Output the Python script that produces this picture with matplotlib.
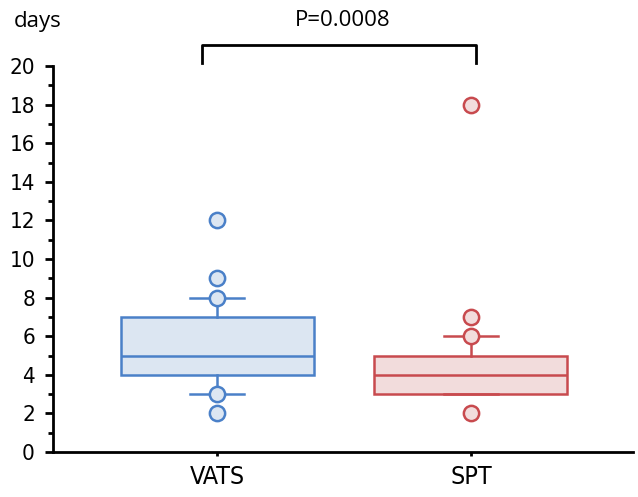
import numpy as np
import matplotlib
matplotlib.use("Agg")
import matplotlib.pyplot as plt
from matplotlib.ticker import MultipleLocator
from matplotlib import font_manager

# Daten
groups = ["VATS", "SPT"]
q1 = [4, 3]
median = [5, 4]
q3 = [7, 5]
whis_lo = [3, 3]
whis_hi = [8, 6]
points_vats = [2, 3, 8, 9, 12]
points_spt = [2, 6, 7, 18]
p_text = "P=0.0008"

edge_cols = ["#4a80c8", "#c84a4e"]
fill_cols = ["#dce6f2", "#f2dcdc"]

# schmale Schrift suchen, sonst Roboto
cands = [f for f in font_manager.fontManager.ttflist
         if "ondensed" in str(f.stretch) or "Narrow" in f.name or "Condensed" in f.name]
if cands:
    cands.sort(key=lambda f: (f.weight != 400 and f.weight != "normal", "Oblique" in f.fname or "Italic" in f.fname))
    narrow = font_manager.FontProperties(fname=cands[0].fname)
else:
    narrow = font_manager.FontProperties(family="Roboto")

fig = plt.figure(figsize=(6.38, 4.97), dpi=100)
ax = fig.add_axes([53/638, 1-452/497, 580/638, 386/497])

pos = [1, 2]
for i in range(2):
    st = dict(med=median[i], q1=q1[i], q3=q3[i],
              whislo=whis_lo[i], whishi=whis_hi[i], fliers=[])
    ax.bxp([st], positions=[pos[i]], widths=0.76, patch_artist=True,
           showfliers=False,
           boxprops=dict(facecolor=fill_cols[i], edgecolor=edge_cols[i], linewidth=1.8),
           medianprops=dict(color=edge_cols[i], linewidth=1.8),
           whiskerprops=dict(color=edge_cols[i], linewidth=1.8),
           capprops=dict(color=edge_cols[i], linewidth=1.8),
           capwidths=0.21)

for i, pts in enumerate([points_vats, points_spt]):
    ax.plot([pos[i]] * len(pts), pts, "o", ms=11, mfc=fill_cols[i],
            mec=edge_cols[i], mew=1.8, zorder=5, clip_on=False)

ax.set_xlim(0.354, 2.638)
ax.set_ylim(0, 20)
ax.yaxis.set_major_locator(MultipleLocator(2))
ax.yaxis.set_minor_locator(MultipleLocator(1))
ax.set_xticks(pos)
ax.set_xticklabels(groups)

for s in ["top", "right"]:
    ax.spines[s].set_visible(False)
ax.spines["left"].set_linewidth(2)
ax.spines["bottom"].set_linewidth(2)
ax.tick_params(axis="y", which="major", length=6, width=2, pad=7)
ax.tick_params(axis="y", which="minor", length=3.5, width=2)
ax.tick_params(axis="x", length=3, width=2, pad=6)
for lab in ax.get_yticklabels():
    lab.set_fontproperties(narrow)
    lab.set_fontsize(16)
for lab in ax.get_xticklabels():
    lab.set_fontproperties(narrow)
    lab.set_fontsize(18)

# Signifikanz-Klammer
ax.plot([0.94, 0.94, 2.02, 2.02], [20.15, 21.1, 21.1, 20.15], color="black",
        lw=2, clip_on=False)
fig.text(343/638, 1-20/497, p_text, ha="center", va="center", fontsize=16,
         fontfamily="Open Sans")
fig.text(14/638, 1-22/497, "days", ha="left", va="center", fontsize=16,
         fontfamily="Open Sans")

fig.savefig("out.png", dpi=100)
